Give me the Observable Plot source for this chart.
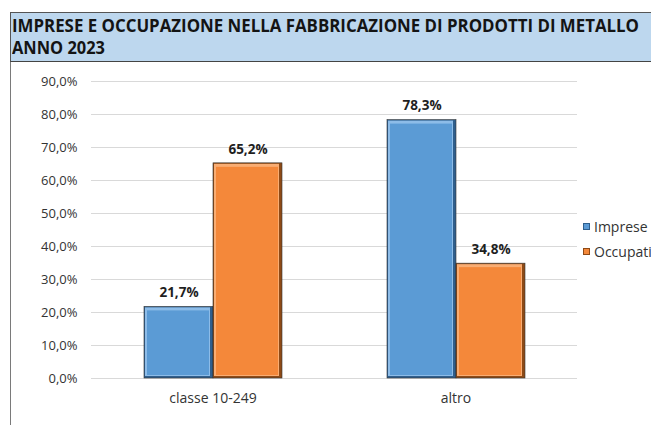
<!DOCTYPE html>
<html>
<head>
<meta charset="utf-8">
<script src="https://cdn.jsdelivr.net/npm/d3@7"></script>
<script src="https://cdn.jsdelivr.net/npm/@observablehq/plot@0.6"></script>
<style>
  html, body { margin:0; padding:0; background:#fff; }
  body { width:651px; height:425px; overflow:hidden; position:relative; font-family:"Open Sans", sans-serif; }
  #banner { position:absolute; left:10px; top:12px; width:650px; height:48px; background:#bdd7ee;
            border-top:1px solid #555; border-left:1px solid #555; border-bottom:1.5px solid #444; }
  #banner .line { position:absolute; left:1px; font: bold 17px "Open Sans", sans-serif; color:#141414;
                  white-space:nowrap; transform-origin:0 50%; line-height:22px; }
  #chart { position:absolute; left:0; top:62px; }
  #leftline { position:absolute; left:10px; top:62px; width:1px; height:363px; background:#7a7a7a; }
  #legend { position:absolute; left:583px; top:214px; font-size:14px; color:#333; white-space:nowrap; }
  #legend .item { height:25px; display:flex; align-items:center; }
  #legend .sw { width:7px; height:7px; margin-right:4px; box-sizing:border-box; }
</style>
</head>
<body>
<div id="banner"></div>
<div id="leftline"></div>
<div id="chart"></div>
<div id="legend"></div>
<script>
const titleLines = ["IMPRESE E OCCUPAZIONE NELLA FABBRICAZIONE DI PRODOTTI DI METALLO", "ANNO 2023"];
const categories = ["classe 10-249", "altro"];
const series = ["Imprese", "Occupati"];
const imprese = [0.217, 0.783];
const occupati = [0.652, 0.348];
const yTicks = [0, 0.1, 0.2, 0.3, 0.4, 0.5, 0.6, 0.7, 0.8, 0.9];
const colors = ["#5b9bd5", "#f4883a"];
const lightColors = ["#8dbce8", "#f9ad73"];
const darkColors = ["#2f5f8d", "#8e4a16"];

const fmt = d => (d * 100).toFixed(1).replace(".", ",") + "%";

// banner (real text, compressed horizontally to match the narrow original font)
const banner = document.getElementById("banner");
const targetWidths = [627, 93];
const tops = [2, 24];
titleLines.forEach((txt, i) => {
  const s = document.createElement("div");
  s.className = "line";
  s.style.top = tops[i] + "px";
  s.textContent = txt;
  banner.appendChild(s);
  const w = s.getBoundingClientRect().width;
  s.style.transform = `scaleX(${targetWidths[i] / w})`;
});

// data table
const data = [];
categories.forEach((c, i) => {
  data.push({category: c, series: series[0], value: imprese[i]});
  data.push({category: c, series: series[1], value: occupati[i]});
});

const chart = Plot.plot({
  width: 651,
  height: 363,
  marginTop: 19,
  marginBottom: 47,
  marginLeft: 91,
  marginRight: 74,
  style: {fontFamily: "'Open Sans', sans-serif", color: "#333", background: "transparent"},
  fx: {domain: categories, padding: 0, label: null},
  x: {domain: series, paddingInner: 0, paddingOuter: 0.75, axis: null},
  y: {domain: [0, 0.9], label: null},
  color: {domain: series, range: colors},
  marks: [
    Plot.gridY(yTicks, {stroke: "#d9d9d9", strokeOpacity: 1, strokeWidth: 1}),
    Plot.axisY({ticks: yTicks, tickFormat: fmt, tickSize: 0, tickPadding: 14, fontSize: 13, label: null}),
    Plot.axisFx({anchor: "bottom", tickSize: 0, tickPadding: 15, fontSize: 14, label: null}),
    // outer dark edge
    Plot.barY(data, {fx: "category", x: "series", y: "value",
      fill: d => darkColors[series.indexOf(d.series)], stroke: "#333", strokeWidth: 0.6}),
    // top-left highlight
    Plot.barY(data, {fx: "category", x: "series", y: "value",
      fill: d => lightColors[series.indexOf(d.series)], insetTop: 1, insetLeft: 1, insetRight: 3, insetBottom: 2}),
    // main face
    Plot.barY(data, {fx: "category", x: "series", y: "value",
      fill: "series", insetTop: 4, insetLeft: 3, insetRight: 4, insetBottom: 3}),
    Plot.text(data, {fx: "category", x: "series", y: "value", text: d => fmt(d.value),
      dy: -14, fontWeight: "bold", fontSize: 13.5, fill: "#1f1f1f"})
  ]
});
document.getElementById("chart").appendChild(chart);

// legend
const legend = document.getElementById("legend");
series.forEach((s, i) => {
  const item = document.createElement("div");
  item.className = "item";
  const sw = document.createElement("span");
  sw.className = "sw";
  sw.style.background = colors[i];
  sw.style.border = "1px solid " + darkColors[i];
  const lab = document.createElement("span");
  lab.textContent = s;
  item.appendChild(sw); item.appendChild(lab);
  legend.appendChild(item);
});
</script>
</body>
</html>
